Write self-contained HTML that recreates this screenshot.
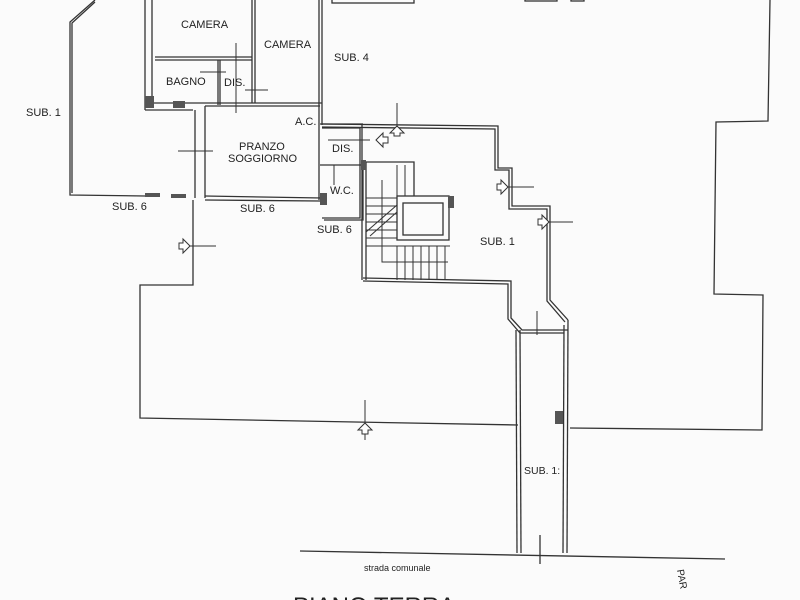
<!DOCTYPE html>
<html><head><meta charset="utf-8"><style>
html,body{margin:0;padding:0;background:#fbfbfb;}
svg{display:block;}
text{font-family:"Liberation Sans",sans-serif;fill:#222;font-size:11px;}
</style></head><body>
<svg width="800" height="600" viewBox="0 0 800 600" xmlns="http://www.w3.org/2000/svg">
<rect width="800" height="600" fill="#fbfbfb"/>
<g fill="none" stroke="#333" stroke-width="1.3">
<polyline points="95,0 70,22 70,195 145,196"/>
<polyline points="95,2 72,23 72,193"/>
<polyline points="193,200 193,285 140,285 140,418 518,425"/>
<polyline points="570,428 762,430 763,295 714,294 716,122 768,121 770,0"/>
<polyline points="300,551 725,559"/>
<line x1="540" y1="535" x2="540" y2="564"/>
<polyline points="516,330 517,553"/><polyline points="520,330 521,553"/>
<polyline points="564,325 563,553"/><polyline points="568,320 567,553"/>
<polyline points="322,124 498,126 498,168 512,168 512,206 550,206 550,300 568,320"/>
<polyline points="322,127 495,129 495,170 509,170 509,209 547,209 547,301 565,322"/>
<polyline points="363,278 511,281 511,318 522,330 568,330"/>
<polyline points="363,281 508,284 508,319 520,333 564,333"/>
<line x1="362" y1="125" x2="362" y2="280"/><line x1="366" y1="162" x2="366" y2="280"/>
<polyline points="320,124 363,124"/><polyline points="322,128 360,128 360,218 322,218"/>
<polyline points="324,220 363,220 363,165"/>
<line x1="320" y1="165" x2="362" y2="165"/>
<line x1="145" y1="0" x2="145" y2="110"/><line x1="152" y1="0" x2="152" y2="103"/>
<line x1="145" y1="110" x2="193" y2="110"/><line x1="152" y1="103" x2="322" y2="103"/><line x1="205" y1="106" x2="320" y2="106"/>
<line x1="195" y1="110" x2="195" y2="198"/><line x1="205" y1="106" x2="205" y2="198"/>
<line x1="205" y1="196" x2="322" y2="198"/><line x1="205" y1="200" x2="320" y2="201"/>
<line x1="155" y1="57" x2="252" y2="57"/><line x1="155" y1="60" x2="252" y2="60"/>
<line x1="218" y1="60" x2="218" y2="105"/><line x1="220" y1="60" x2="220" y2="105"/>
<line x1="252" y1="0" x2="252" y2="103"/><line x1="255" y1="0" x2="255" y2="103"/>
<line x1="319" y1="0" x2="319" y2="200"/><line x1="322" y1="0" x2="322" y2="125"/>
<polyline points="366,162 414,162 414,196"/>
<rect x="397" y="196" width="52" height="44"/><rect x="403" y="203" width="40" height="32"/>
<g stroke-width="1">
<line x1="397" y1="165" x2="397" y2="196"/><line x1="405" y1="165" x2="405" y2="196"/>
<line x1="366" y1="198" x2="397" y2="198"/><line x1="366" y1="206" x2="397" y2="206"/><line x1="366" y1="214" x2="397" y2="214"/><line x1="366" y1="222" x2="397" y2="222"/><line x1="366" y1="230" x2="397" y2="230"/><line x1="366" y1="238" x2="397" y2="238"/><line x1="366" y1="246" x2="450" y2="246"/>
<line x1="397" y1="246" x2="397" y2="280"/><line x1="405" y1="246" x2="405" y2="280"/><line x1="413" y1="246" x2="413" y2="280"/><line x1="421" y1="246" x2="421" y2="280"/><line x1="429" y1="246" x2="429" y2="280"/><line x1="437" y1="246" x2="437" y2="280"/><line x1="445" y1="246" x2="445" y2="280"/>
<polyline points="382,180 382,262 448,262"/>
<line x1="366" y1="232" x2="397" y2="205"/><line x1="370" y1="236" x2="397" y2="212"/>
</g>
<g stroke-width="1">
<line x1="236" y1="43" x2="236" y2="113"/><line x1="200" y1="72" x2="226" y2="72"/><line x1="245" y1="90" x2="268" y2="90"/>
<line x1="178" y1="151" x2="213" y2="151"/>
<line x1="328" y1="140" x2="370" y2="140"/><line x1="334" y1="165" x2="334" y2="185"/>
<line x1="397" y1="103" x2="397" y2="130"/>
<line x1="505" y1="187" x2="534" y2="187"/><line x1="540" y1="222" x2="573" y2="222"/>
<line x1="180" y1="246" x2="216" y2="246"/><line x1="365" y1="400" x2="365" y2="440"/>
<line x1="537" y1="311" x2="537" y2="335"/>
</g>
<g stroke-width="1" fill="#fff">
<path d="M376,140 l7,-7 v4 h5 v6 h-5 v4 z"/>
<path d="M404,133 l-7,-7 l-7,7 h4 v3 h6 v-3 z"/>
<path d="M508,187 l-7,-7 v4 h-4 v6 h4 v4 z"/>
<path d="M549,222 l-7,-7 v4 h-4 v6 h4 v4 z"/>
<path d="M190,246 l-7,-7 v4 h-4 v6 h4 v4 z"/>
<path d="M365,423 l-7,7 h4 v4 h6 v-4 h4 z"/>
</g>
<rect x="332" y="-2" width="82" height="5"/><rect x="525" y="-2" width="32" height="3"/><rect x="571" y="-2" width="13" height="3"/>
</g>
<g fill="#555">
<rect x="145" y="96" width="9" height="12"/><rect x="173" y="101" width="12" height="7"/>
<rect x="320" y="193" width="7" height="12"/><rect x="448" y="196" width="6" height="12"/>
<rect x="555" y="411" width="8" height="13"/>
<rect x="145" y="193" width="15" height="4"/><rect x="171" y="194" width="15" height="4"/>
<rect x="361" y="160" width="5" height="10"/>
</g>
<text x="181" y="28">CAMERA</text>
<text x="264" y="48">CAMERA</text>
<text x="334" y="61">SUB. 4</text>
<text x="166" y="85">BAGNO</text>
<text x="224" y="86">DIS.</text>
<text x="26" y="116">SUB. 1</text>
<text x="295" y="125">A.C.</text>
<text x="239" y="150">PRANZO</text>
<text x="228" y="162">SOGGIORNO</text>
<text x="332" y="152">DIS.</text>
<text x="330" y="194">W.C.</text>
<text x="112" y="210">SUB. 6</text>
<text x="240" y="212">SUB. 6</text>
<text x="317" y="233">SUB. 6</text>
<text x="480" y="245">SUB. 1</text>
<text x="524" y="474" style="font-size:10.5px">SUB. 1:</text>
<text x="364" y="571" style="font-size:9px">strada comunale</text>
<text x="293" y="614" style="font-size:24px">PIANO TERRA</text>
<text x="0" y="0" style="font-size:10px" transform="translate(677,570) rotate(80)">PAR</text>
</svg>
</body></html>
